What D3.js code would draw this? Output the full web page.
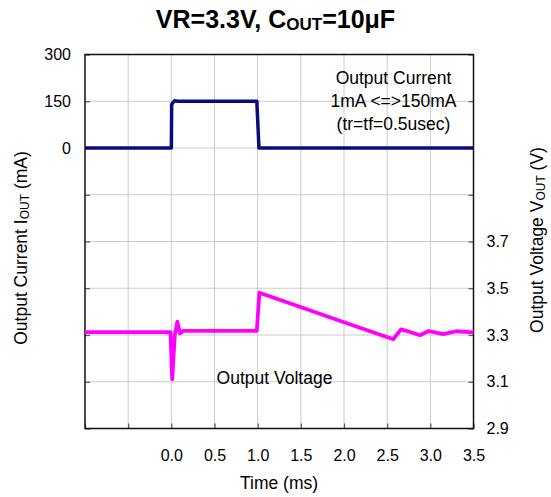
<!DOCTYPE html>
<html>
<head>
<meta charset="utf-8">
<script src="https://cdn.jsdelivr.net/npm/d3@7"></script>
<style>
  html, body { margin: 0; padding: 0; background: #fff; }
  svg { display: block; font-family: "Liberation Sans", Arial, Helvetica, sans-serif; }
</style>
</head>
<body>
<svg id="chart" width="551" height="497"></svg>
<script>
// Load-transient response: output current step and resulting output voltage
const currentTime = [-1.0, 0.0, 0.004, 0.02, 0.04, 0.07, 0.99, 1.015, 3.5];
const currentValues = [0, 0, 140, 146, 152, 150, 150, 0, 0];

const voltageTime = [-1.0, -0.01, 0.01, 0.04, 0.07, 0.10, 0.14, 0.99, 1.02, 1.37, 1.95, 2.57, 2.66, 2.72, 2.88, 2.98, 3.15, 3.30, 3.5];
const voltageValues = [3.312, 3.312, 3.11, 3.30, 3.357, 3.307, 3.318, 3.318, 3.481, 3.436, 3.361, 3.282, 3.324, 3.318, 3.299, 3.317, 3.304, 3.316, 3.311];

const timeTicks = [-1.0, -0.5, 0.0, 0.5, 1.0, 1.5, 2.0, 2.5, 3.0, 3.5];
const timeTickLabels = ["", "", "0.0", "0.5", "1.0", "1.5", "2.0", "2.5", "3.0", "3.5"];
const currentTicks = [300, 150, 0, -150, -300, -450, -600, -750, -900];
const currentTickLabels = ["300", "150", "0", "", "", "", "", "", ""];
const voltageTicks = [4.5, 4.3, 4.1, 3.9, 3.7, 3.5, 3.3, 3.1, 2.9];
const voltageTickLabels = ["", "", "", "", "3.7", "3.5", "3.3", "3.1", "2.9"];

const margin = { left: 85, right: 473.5, top: 54.5, bottom: 428.5 };

const svg = d3.select("#chart");

const x = d3.scaleLinear().domain([-1.0, 3.5]).range([margin.left, margin.right]);
const yI = d3.scaleLinear().domain([-900, 300]).range([margin.bottom, margin.top]);
const yV = d3.scaleLinear().domain([2.9, 4.5]).range([margin.bottom, margin.top]);

// Grid
const grid = svg.append("g").attr("stroke", "#cccccc").attr("stroke-width", 1);
grid.selectAll("line.v").data(timeTicks.slice(1, -1)).join("line")
  .attr("x1", d => x(d)).attr("x2", d => x(d))
  .attr("y1", margin.top).attr("y2", margin.bottom);
grid.selectAll("line.h").data(currentTicks.slice(1, -1)).join("line")
  .attr("x1", margin.left).attr("x2", margin.right)
  .attr("y1", d => yI(d)).attr("y2", d => yI(d));

function styleAxis(g) {
  g.select(".domain").remove();
  g.selectAll(".tick line").attr("stroke", "#555").attr("stroke-width", 1.2);
  g.selectAll(".tick text").attr("fill", "#000").attr("font-size", 16)
    .attr("font-family", "Liberation Sans, Arial, sans-serif");
}

svg.append("g").attr("transform", `translate(0,${margin.bottom})`)
  .call(d3.axisBottom(x).tickValues(timeTicks).tickSize(-5).tickPadding(21)
    .tickFormat((d, i) => timeTickLabels[i]))
  .call(styleAxis);

svg.append("g").attr("transform", `translate(${margin.left},0)`)
  .call(d3.axisLeft(yI).tickValues(currentTicks).tickSize(-5).tickPadding(14)
    .tickFormat((d, i) => currentTickLabels[i]))
  .call(styleAxis);

svg.append("g").attr("transform", `translate(${margin.right},0)`)
  .call(d3.axisRight(yV).tickValues(voltageTicks).tickSize(-5).tickPadding(13)
    .tickFormat((d, i) => voltageTickLabels[i]))
  .call(styleAxis);

// Frame
svg.append("rect")
  .attr("x", margin.left).attr("y", margin.top)
  .attr("width", margin.right - margin.left).attr("height", margin.bottom - margin.top)
  .attr("fill", "none").attr("stroke", "#111").attr("stroke-width", 1.5);

// Traces
svg.append("path")
  .datum(currentTime.map((t, i) => [t, currentValues[i]]))
  .attr("fill", "none").attr("stroke", "#0b0b80").attr("stroke-width", 3.5)
  .attr("stroke-linejoin", "round")
  .attr("d", d3.line().x(d => x(d[0])).y(d => yI(d[1])));

svg.append("path")
  .datum(voltageTime.map((t, i) => [t, voltageValues[i]]))
  .attr("fill", "none").attr("stroke", "#ff00ff").attr("stroke-width", 3.8)
  .attr("stroke-linejoin", "round")
  .attr("d", d3.line().x(d => x(d[0])).y(d => yV(d[1])));

// Title
const title = svg.append("text").attr("x", 275.5).attr("y", 28)
  .attr("text-anchor", "middle").attr("font-size", 25).attr("font-weight", "bold");
title.append("tspan").text("VR=3.3V, C");
title.append("tspan").attr("font-size", 17).attr("dy", 2).text("OUT");
title.append("tspan").attr("dy", -2).text("=10μF");

// Annotations
const note = svg.append("g").attr("font-size", 17.5).attr("text-anchor", "middle");
note.append("text").attr("x", 393.5).attr("y", 84).text("Output Current");
note.append("text").attr("x", 393.5).attr("y", 107).text("1mA <=>150mA");
note.append("text").attr("x", 393.5).attr("y", 130).text("(tr=tf=0.5usec)");
note.append("text").attr("x", 274.5).attr("y", 384).text("Output Voltage");

// Axis titles
svg.append("text").attr("x", 279).attr("y", 489).attr("text-anchor", "middle")
  .attr("font-size", 17.5).text("Time (ms)");

const yl = svg.append("text").attr("transform", "translate(27,248) rotate(-90)")
  .attr("text-anchor", "middle").attr("font-size", 17.5);
yl.append("tspan").text("Output Current I");
yl.append("tspan").attr("font-size", 12).attr("dy", 2).text("OUT");
yl.append("tspan").attr("dy", -2).text(" (mA)");

const yr = svg.append("text").attr("transform", "translate(543,240) rotate(-90)")
  .attr("text-anchor", "middle").attr("font-size", 17.5);
yr.append("tspan").text("Output Voltage V");
yr.append("tspan").attr("font-size", 12).attr("dy", 2).text("OUT");
yr.append("tspan").attr("dy", -2).text(" (V)");
</script>
</body>
</html>
